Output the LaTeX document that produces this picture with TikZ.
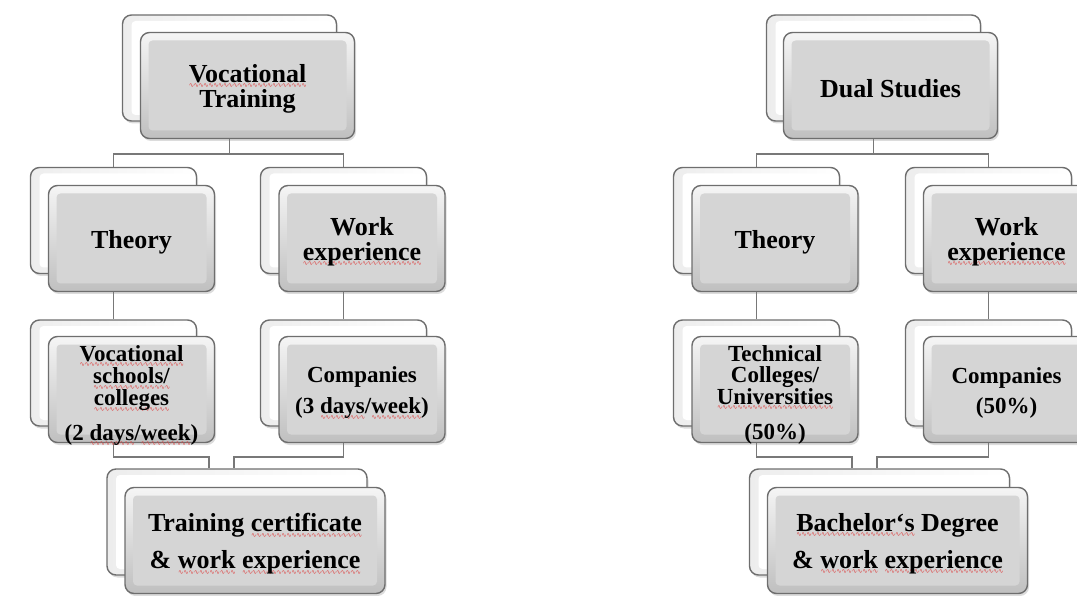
\documentclass[tikz,border=0pt]{standalone}
\usepackage{fontspec}
\setmainfont{Liberation Serif}
\newfontfamily\wavefont{DejaVu Sans}
\usetikzlibrary{shadows,calc}
\definecolor{edgec}{RGB}{120,120,120}
\definecolor{bordc}{RGB}{110,110,110}
\definecolor{facec}{RGB}{213,213,213}
\definecolor{squig}{RGB}{222,70,70}
\newsavebox\sqbox
\newcommand\sq[1]{\leavevmode\sbox\sqbox{#1}%
  \rlap{\lower5.2pt\hbox to \wd\sqbox{\color{squig}\fontsize{6.5}{6.5}\wavefont\mdseries\xleaders\hbox{∿\kern-0.6pt}\hfill}}\usebox\sqbox}
\newcommand\fsA{\fontsize{26}{25}\selectfont\bfseries}
\newcommand\fsB{\fontsize{23}{20.5}\selectfont\bfseries}
\newcommand\fsC{\fontsize{26}{37}\selectfont\bfseries}
\pgfdeclarelayer{bg}
\pgfsetlayers{bg,main}
\begin{document}
\begin{tikzpicture}[x=1pt,y=-1pt,
  boxshadow/.style={drop shadow={opacity=0.28, shadow xshift=1.5pt, shadow yshift=-2.5pt}},
  backbox/.style={draw=bordc, line width=1.4pt, rounded corners=9pt,
    left color=gray!14, right color=white,
    minimum width=#1, minimum height=106, inner sep=0, boxshadow,
    path picture={\fill[white, rounded corners=4pt]
      ($(path picture bounding box.south west)+(9pt,6pt)$) rectangle
      ($(path picture bounding box.north east)+(-4pt,-6pt)$);}},
  frontbox/.style={draw=bordc, line width=1.4pt, rounded corners=9pt,
    top color=gray!8, bottom color=gray!50,
    minimum width=#1, minimum height=106, inner sep=0, boxshadow,
    path picture={\fill[facec, rounded corners=4pt]
      ($(path picture bounding box.south west)+(8pt,8pt)$) rectangle
      ($(path picture bounding box.north east)+(-8pt,-8pt)$);}},
  txt/.style={align=center, inner sep=0},
  conn/.style={draw=edgec, line width=1.8pt}]
\useasboundingbox (0,0) rectangle (1077,596);

% ---------- left diagram ----------
\node[backbox=214] (vtB) at (229.5,68) {};
\node[frontbox=214] (vt) at (247.5,85.5) {};
\node[txt, font=\fsA] (vtT) at ($(vt.center)+(0,3.5)$) {\sq{Vocational}\\Training};
\node[backbox=166] (thB) at (113.5,220.5) {};
\node[frontbox=166] (th) at (131.5,238.5) {};
\node[txt, font=\fsA] (thT) at ($(th.center)+(0,3.5)$) {Theory};
\node[backbox=166] (wkB) at (343.5,220.5) {};
\node[frontbox=166] (wk) at (362,238.5) {};
\node[txt, font=\fsA] (wkT) at ($(wk.center)+(0,3.5)$) {Work\\\sq{experience}};
\node[backbox=166] (vsB) at (113.5,373) {};
\node[frontbox=166] (vs) at (131.5,389.5) {};
\node[txt, font=\fsB] (vsT) at ($(vs.center)+(0,6)$) {\sq{Vocational}\\\sq{schools/}\\\sq{colleges}\\[12pt](2 \sq{days}/\sq{week})};
\node[backbox=166] (coB) at (343.5,373) {};
\node[frontbox=166] (co) at (362,389.5) {};
\node[txt, font=\fsB] (coT) at ($(co.center)+(0,3.5)$) {Companies\\[9pt](3 \sq{days}/\sq{week})};
\node[backbox=260] (tcB) at (237,522) {};
\node[frontbox=260] (tc) at (255,540.5) {};
\node[txt, font=\fsC] (tcT) at ($(tc.center)+(0,3.5)$) {Training \sq{certificate}\\\& \sq{work} \sq{experience}};

% ---------- right diagram ----------
\node[backbox=214] (dsB) at (873.5,68) {};
\node[frontbox=214] (ds) at (890.5,85.5) {};
\node[txt, font=\fsA] (dsT) at ($(ds.center)+(0,3.5)$) {Dual Studies};
\node[backbox=166] (th2B) at (756.5,220.5) {};
\node[frontbox=166] (th2) at (775,238.5) {};
\node[txt, font=\fsA] (th2T) at ($(th2.center)+(0,3.5)$) {Theory};
\node[backbox=166] (wk2B) at (988.5,220.5) {};
\node[frontbox=166] (wk2) at (1006.5,238.5) {};
\node[txt, font=\fsA] (wk2T) at ($(wk2.center)+(0,3.5)$) {Work\\\sq{experience}};
\node[backbox=166] (tuB) at (756.5,373) {};
\node[frontbox=166] (tu) at (775,389.5) {};
\node[txt, font=\fsB] (tuT) at ($(tu.center)+(0,5.5)$) {Technical\\Colleges/\\\sq{Universities}\\[13pt](50\%)};
\node[backbox=166] (co2B) at (988.5,373) {};
\node[frontbox=166] (co2) at (1006.5,389.5) {};
\node[txt, font=\fsB] (co2T) at ($(co2.center)+(0,3.5)$) {Companies\\[9pt](50\%)};
\node[backbox=260] (bdB) at (879.5,522) {};
\node[frontbox=260] (bd) at (897.5,540.5) {};
\node[txt, font=\fsC] (bdT) at ($(bd.center)+(0,3.5)$) {\sq{Bachelor‘s} Degree\\\& \sq{work} \sq{experience}};

% ---------- connectors ----------
\coordinate (j1) at (229.5,154);
\coordinate (m1) at (209,457);
\coordinate (m2) at (234,457);
\coordinate (j2) at (873.5,154);
\coordinate (m3) at (852,457);
\coordinate (m4) at (877,457);
\begin{pgfonlayer}{bg}
\draw[conn] (vtB.center) -- (j1);
\draw[conn] (thB.north) |- (j1) -| (wkB.north);
\draw[conn] (thB.center) -- (vsB.north);
\draw[conn] (wkB.center) -- (coB.north);
\draw[conn] (vsB.center) |- (m1) -- (m1 |- tcB.north);
\draw[conn] (coB.center) |- (m2) -- (m2 |- tcB.north);
\draw[conn] (dsB.center) -- (j2);
\draw[conn] (th2B.north) |- (j2) -| (wk2B.north);
\draw[conn] (th2B.center) -- (tuB.north);
\draw[conn] (wk2B.center) -- (co2B.north);
\draw[conn] (tuB.center) |- (m3) -- (m3 |- bdB.north);
\draw[conn] (co2B.center) |- (m4) -- (m4 |- bdB.north);
\end{pgfonlayer}
\end{tikzpicture}
\end{document}
